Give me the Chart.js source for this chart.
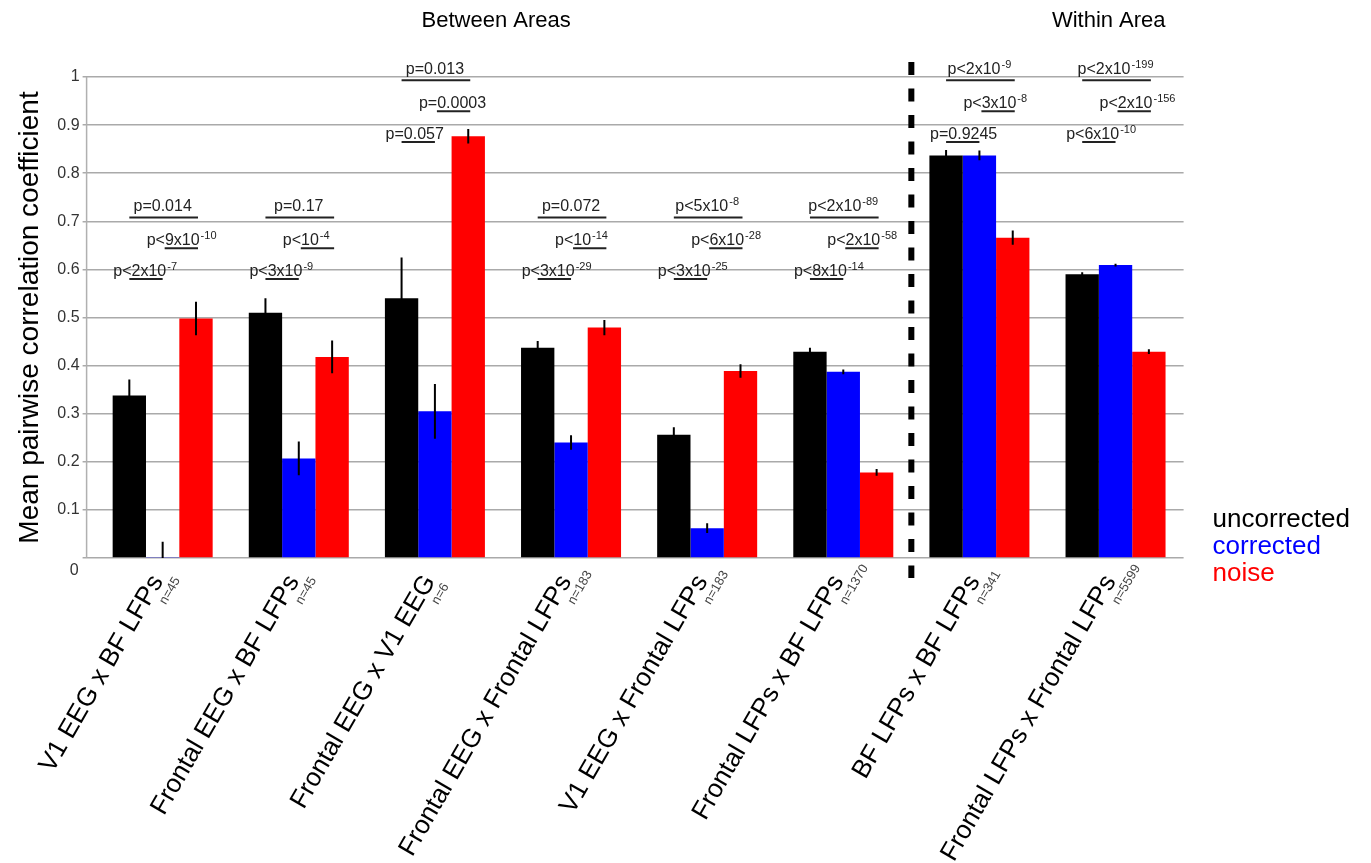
<!DOCTYPE html>
<html>
<head>
<meta charset="utf-8">
<script src="https://cdn.jsdelivr.net/npm/chart.js@4.4.1/dist/chart.umd.min.js"></script>
<style>
  html, body { margin: 0; padding: 0; background: #fff; }
  #wrap { width: 1371px; height: 863px; position: relative; }
</style>
</head>
<body>
<div id="wrap"><canvas id="chart" width="1371" height="863"></canvas></div>
<script>
// Pair types (x categories) and their pair counts
const categories = [
  'V1 EEG x BF LFPs', 'Frontal EEG x BF LFPs', 'Frontal EEG x V1 EEG',
  'Frontal EEG x Frontal LFPs', 'V1 EEG x Frontal LFPs', 'Frontal LFPs x BF LFPs',
  'BF LFPs x BF LFPs', 'Frontal LFPs x Frontal LFPs'
];
const pairCounts = ['n=45', 'n=45', 'n=6', 'n=183', 'n=183', 'n=1370', 'n=341', 'n=5599'];

// Mean pairwise correlation coefficients and their error bars
const uncorrected    = [0.338, 0.510, 0.540, 0.437, 0.256, 0.429, 0.837, 0.590];
const uncorrectedErr = [0.033, 0.030, 0.085, 0.014, 0.016, 0.008, 0.011, 0.004];
const corrected      = [0.002, 0.207, 0.305, 0.240, 0.062, 0.387, 0.837, 0.609];
const correctedErr   = [0.032, 0.035, 0.057, 0.015, 0.010, 0.005, 0.010, 0.003];
const noise          = [0.498, 0.418, 0.877, 0.479, 0.389, 0.178, 0.666, 0.429];
const noiseErr       = [0.035, 0.034, 0.015, 0.016, 0.014, 0.007, 0.015, 0.005];

// y axis ticks
const yTicks = [0, 0.1, 0.2, 0.3, 0.4, 0.5, 0.6, 0.7, 0.8, 0.9, 1];
const yTickLabels = ['0', '0.1', '0.2', '0.3', '0.4', '0.5', '0.6', '0.7', '0.8', '0.9', '1'];

// Significance of each comparison: [text, superscript exponent]
const pUncVsNoise = [['p=0.014', ''], ['p=0.17', ''], ['p=0.013', ''], ['p=0.072', ''],
                     ['p<5x10', '-8'], ['p<2x10', '-89'], ['p<2x10', '-9'], ['p<2x10', '-199']];
const pCorVsNoise = [['p<9x10', '-10'], ['p<10', '-4'], ['p=0.0003', ''], ['p<10', '-14'],
                     ['p<6x10', '-28'], ['p<2x10', '-58'], ['p<3x10', '-8'], ['p<2x10', '-156']];
const pUncVsCor   = [['p<2x10', '-7'], ['p<3x10', '-9'], ['p=0.057', ''], ['p<3x10', '-29'],
                     ['p<3x10', '-25'], ['p<8x10', '-14'], ['p=0.9245', ''], ['p<6x10', '-10']];
// Height (correlation units) of the lowest comparison bracket in each group
const bracketLevel = [0.58, 0.58, 0.865, 0.58, 0.58, 0.58, 0.865, 0.865];
const bracketStep = 0.064;

// Section headings: [text, category position of centre]
const sections = [['Between Areas', 2.45], ['Within Area', 6.95]];
const sectionBoundary = 5.5;

const FONT = '"Liberation Sans", Arial, Helvetica, sans-serif';
const errors = [uncorrectedErr, correctedErr, noiseErr];

function drawP(ctx, x, y, pair, align) {
  const [base, exp] = pair;
  ctx.font = '16px ' + FONT;
  const bw = ctx.measureText(base).width;
  ctx.font = '11px ' + FONT;
  const ew = exp ? ctx.measureText(exp).width + 1 : 0;
  const total = bw + ew;
  let x0 = align === 'center' ? x - total / 2 : x;
  ctx.textAlign = 'left';
  ctx.textBaseline = 'alphabetic';
  ctx.font = '16px ' + FONT;
  ctx.fillText(base, x0, y);
  if (exp) {
    ctx.font = '11px ' + FONT;
    ctx.fillText(exp, x0 + bw + 1, y - 6);
  }
}

const overlay = {
  id: 'overlay',
  beforeDatasetsDraw(chart) {
    const { ctx, chartArea } = chart;
    ctx.save();
    ctx.strokeStyle = '#b0b0b0';
    ctx.lineWidth = 1.5;
    ctx.beginPath();
    ctx.moveTo(chartArea.left - 8, chartArea.top);
    ctx.lineTo(chartArea.left - 8, chartArea.bottom);
    ctx.stroke();
    ctx.restore();
  },
  afterDatasetsDraw(chart) {
    const { ctx, chartArea } = chart;
    const xs = chart.scales.x, ys = chart.scales.y;
    const metas = [0, 1, 2].map(i => chart.getDatasetMeta(i));

    // error bars
    ctx.save();
    ctx.beginPath();
    ctx.rect(chartArea.left, chartArea.top - 30, chartArea.width, chartArea.height + 30);
    ctx.clip();
    ctx.strokeStyle = '#000';
    ctx.lineWidth = 2;
    metas.forEach((meta, d) => {
      const vals = chart.data.datasets[d].data;
      meta.data.forEach((bar, i) => {
        ctx.beginPath();
        ctx.moveTo(bar.x, ys.getPixelForValue(vals[i] + errors[d][i]));
        ctx.lineTo(bar.x, ys.getPixelForValue(vals[i] - errors[d][i]));
        ctx.stroke();
      });
    });
    ctx.restore();

    ctx.save();
    // dashed separator between the two sections
    const sx = xs.getPixelForValue(sectionBoundary);
    ctx.strokeStyle = '#000';
    ctx.lineWidth = 6;
    ctx.setLineDash([13, 13.5]);
    ctx.beginPath();
    ctx.moveTo(sx, chartArea.top - 15);
    ctx.lineTo(sx, chartArea.bottom + 20);
    ctx.stroke();
    ctx.setLineDash([]);

    // comparison brackets
    ctx.fillStyle = '#222';
    ctx.strokeStyle = '#222';
    ctx.lineWidth = 2;
    categories.forEach((c, i) => {
      const xb = metas[0].data[i].x, xc = metas[1].data[i].x, xn = metas[2].data[i].x;
      const yBot = ys.getPixelForValue(bracketLevel[i]);
      const yMid = ys.getPixelForValue(bracketLevel[i] + bracketStep);
      const yTop = ys.getPixelForValue(bracketLevel[i] + 2 * bracketStep);
      const seg = (a, b, y) => { ctx.beginPath(); ctx.moveTo(a, y); ctx.lineTo(b, y); ctx.stroke(); };
      seg(xb, xn + 2, yTop);
      seg(xc + 2, xn + 2, yMid);
      seg(xb, xc, yBot);
      drawP(ctx, (xb + xn) / 2, yTop - 6, pUncVsNoise[i], 'center');
      drawP(ctx, xc - 16, yMid - 3, pCorVsNoise[i], 'left');
      drawP(ctx, xb - 16, yBot - 3, pUncVsCor[i], 'left');
    });

    // rotated category labels with pair counts as subscripts
    categories.forEach((c, i) => {
      const px = xs.getPixelForValue(i);
      ctx.save();
      ctx.translate(px + 1, chartArea.bottom + 23);
      ctx.rotate(-Math.PI / 3);
      ctx.textBaseline = 'alphabetic';
      ctx.font = '26px ' + FONT;
      ctx.textAlign = 'right';
      ctx.fillStyle = '#000';
      ctx.fillText(c, 0, 0);
      ctx.font = '13px ' + FONT;
      ctx.textAlign = 'left';
      ctx.fillStyle = '#444';
      ctx.fillText(pairCounts[i], -20, 14);
      ctx.restore();
    });

    // zero label sits below the baseline
    ctx.font = '16px ' + FONT;
    ctx.fillStyle = '#333';
    ctx.textAlign = 'right';
    ctx.textBaseline = 'middle';
    ctx.fillText(yTickLabels[0], chartArea.left - 16, chartArea.bottom + 13);

    // section headings
    ctx.font = '22px ' + FONT;
    ctx.fillStyle = '#000';
    ctx.textAlign = 'center';
    sections.forEach(([t, pos]) => ctx.fillText(t, xs.getPixelForValue(pos), chartArea.top - 56));

    // legend as coloured words
    ctx.font = '26px ' + FONT;
    ctx.textAlign = 'left';
    chart.data.datasets.forEach((ds, d) => {
      ctx.fillStyle = ds.backgroundColor;
      ctx.fillText(ds.label, chartArea.right + 29, chartArea.bottom - 38 + 27 * d);
    });
    ctx.restore();
  }
};

new Chart(document.getElementById('chart'), {
  type: 'bar',
  data: {
    labels: categories,
    datasets: [
      { label: 'uncorrected', data: uncorrected, backgroundColor: '#000000' },
      { label: 'corrected', data: corrected, backgroundColor: '#0000ff' },
      { label: 'noise', data: noise, backgroundColor: '#ff0000' }
    ]
  },
  options: {
    responsive: false,
    animation: false,
    events: [],
    layout: { padding: { top: 77, right: 187.4, left: 0, bottom: 0 } },
    datasets: { bar: { barPercentage: 1, categoryPercentage: 0.7347, borderWidth: 0 } },
    plugins: { legend: { display: false }, tooltip: { enabled: false } },
    scales: {
      x: {
        grid: { display: false },
        border: { display: false },
        ticks: { display: false },
        afterFit(scale) { scale.height = 305; }
      },
      y: {
        min: 0, max: 1,
        afterBuildTicks(scale) { scale.ticks = yTicks.map(v => ({ value: v })); },
        afterFit(scale) { scale.width = 94.6; },
        grid: { color: '#aaaaaa', lineWidth: 1.5, tickLength: 12, drawTicks: true },
        border: { display: false },
        ticks: {
          padding: 3,
          color: '#333',
          font: { family: FONT, size: 16 },
          callback: (v, i) => (i === 0 ? '' : yTickLabels[i])
        },
        title: {
          display: true,
          text: 'Mean pairwise correlation coefficient',
          color: '#000',
          font: { family: FONT, size: 28 },
          padding: { top: 13, bottom: 0 }
        }
      }
    }
  },
  plugins: [overlay]
});
</script>
</body>
</html>
